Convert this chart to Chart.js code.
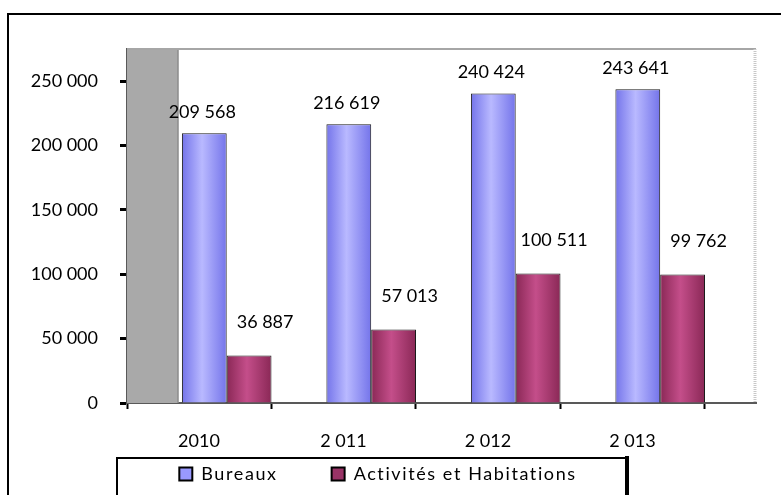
<!DOCTYPE html>
<html>
<head>
<meta charset="utf-8">
<script src="https://cdn.jsdelivr.net/npm/chart.js@4/dist/chart.umd.min.js"></script>
<style>
  html, body { margin: 0; padding: 0; background: #fff; }
  #wrap { width: 781px; height: 495px; }
</style>
</head>
<body>
<div id="wrap"><canvas id="c" width="781" height="495"></canvas></div>
<script>
// ---- data ----
const categories = ["2010", "2 011", "2 012", "2 013"];
const seriesNames = ["Bureaux", "Activités et Habitations"];
const bureaux = [209568, 216619, 240424, 243641];
const activites = [36887, 57013, 100511, 99762];
const yTicks = [0, 50000, 100000, 150000, 200000, 250000];
const yMax = 275000;

// ---- styling constants ----
const FONT = { family: "Lato, 'Open Sans', sans-serif", size: 18 };
const WALL = 0.353;      // depth of 3D side wall, in category units
const SHIFT = 0.19;      // bars sit mid-depth
const CAT_PCT = 0.62;
const LEGEND_GAP = 54;
const EXTRA = LEGEND_GAP - 10;

function fmt(v) { return String(v).replace(/\B(?=(\d{3})+(?!\d))/g, ' '); }

function barGradient(dark, light) {
  return function (ctx) {
    const chart = ctx.chart;
    const s = chart.scales.xb;
    if (!s || ctx.type !== 'data' || !ctx.parsed) return dark;
    const unit = s.getPixelForValue(1) - s.getPixelForValue(0);
    const group = unit * CAT_PCT;
    const w = group / 2;
    const c = s.getPixelForValue(ctx.parsed.x) - group / 2 + w * (ctx.datasetIndex + 0.5);
    const g = chart.ctx.createLinearGradient(c - w / 2, 0, c + w / 2, 0);
    g.addColorStop(0, dark);
    g.addColorStop(0.45, light);
    g.addColorStop(1, dark);
    return g;
  };
}

const decor = {
  id: 'decor',
  afterInit(chart) {
    const lg = chart.legend;
    if (!lg) return;
    const origFit = lg.fit, origDraw = lg.draw;
    lg.fit = function (...args) {
      const c = chart.ctx;
      c.letterSpacing = '1.6px';
      const r = origFit.apply(this, args);
      c.letterSpacing = '0px';
      this.height = Math.max(0, this.height - EXTRA);
      return r;
    };
    lg.draw = function (...args) {
      const c = chart.ctx;
      const t = this.top;
      this.top = t - EXTRA;
      c.letterSpacing = '1.6px';
      const r = origDraw.apply(this, args);
      c.letterSpacing = '0px';
      this.top = t;
      return r;
    };
  },
  beforeDraw(chart) {
    const c = chart.ctx;
    c.save();
    c.fillStyle = '#fff';
    c.fillRect(0, 0, chart.width, chart.height);
    // outer frame
    c.strokeStyle = '#000';
    c.lineWidth = 2;
    c.beginPath();
    c.moveTo(8, chart.height + 2);
    c.lineTo(8, 14);
    c.lineTo(chart.width + 2, 14);
    c.stroke();
    c.restore();
  },
  beforeDatasetsDraw(chart) {
    const c = chart.ctx, a = chart.chartArea, x = chart.scales.x;
    const wallW = x.getPixelForValue(WALL) - x.getPixelForValue(0);
    c.save();
    // side wall
    c.fillStyle = '#a9a9a9';
    c.fillRect(a.left, a.top, wallW, a.bottom - a.top);
    c.strokeStyle = '#8c8c8c';
    c.lineWidth = 1.5;
    c.beginPath();
    c.moveTo(a.left + wallW, a.top);
    c.lineTo(a.left + wallW, a.bottom);
    c.stroke();
    // back wall top & right border
    c.strokeStyle = '#a6a6a6';
    c.lineWidth = 2;
    c.beginPath();
    c.moveTo(a.left, a.top);
    c.lineTo(a.right, a.top);
    c.stroke();
    c.setLineDash([1, 1]);
    c.lineWidth = 3;
    c.strokeStyle = '#c8c8c8';
    c.beginPath();
    c.moveTo(a.right - 1, a.top);
    c.lineTo(a.right - 1, a.bottom);
    c.stroke();
    c.restore();
  },
  afterDatasetsDraw(chart) {
    const c = chart.ctx;
    const offs = [{ dx: -2, dy: 21 }, { dx: 16, dy: 33 }];
    c.save();
    c.font = `${FONT.size}px ${FONT.family}`;
    c.fillStyle = '#000';
    c.textAlign = 'center';
    c.textBaseline = 'middle';
    chart.data.datasets.forEach((ds, di) => {
      const meta = chart.getDatasetMeta(di);
      meta.data.forEach((el, i) => {
        c.fillText(fmt(ds.data[i].y), el.x + offs[di].dx, el.y - offs[di].dy);
      });
    });
    c.restore();
  },
  afterDraw(chart) {
    const c = chart.ctx;
    c.save();
    c.strokeStyle = '#000';
    c.lineWidth = 2;
    c.beginPath();
    c.moveTo(117, chart.height + 2);
    c.lineTo(117, 458);
    c.lineTo(627, 458);
    c.stroke();
    c.lineWidth = 4;
    c.beginPath();
    c.moveTo(627, 456);
    c.lineTo(627, chart.height + 2);
    c.stroke();
    c.restore();
  }
};

const toPoints = arr => arr.map((v, i) => ({ x: i, y: v }));

new Chart(document.getElementById('c'), {
  type: 'bar',
  data: {
    datasets: [
      {
        label: seriesNames[0],
        data: toPoints(bureaux),
        xAxisID: 'xb',
        backgroundColor: barGradient('#7474ea', '#b9b9ff'),
        legendColor: '#9999ff',
        borderColor: '#1a1a1a',
        borderWidth: 1,
        categoryPercentage: CAT_PCT,
        barPercentage: 1.0
      },
      {
        label: seriesNames[1],
        data: toPoints(activites),
        xAxisID: 'xb',
        backgroundColor: barGradient('#8a2856', '#c44e8a'),
        legendColor: '#993366',
        borderColor: '#1a1a1a',
        borderWidth: 1,
        categoryPercentage: CAT_PCT,
        barPercentage: 1.0
      }
    ]
  },
  options: {
    responsive: false,
    animation: false,
    devicePixelRatio: 1,
    layout: { padding: { top: 49, right: 25, left: 0, bottom: 2 } },
    plugins: {
      tooltip: { enabled: false },
      legend: {
        position: 'bottom',
        labels: {
          font: FONT,
          color: '#000',
          boxWidth: 13,
          boxHeight: 13,
          padding: LEGEND_GAP,
          generateLabels(chart) {
            return chart.data.datasets.map((ds, i) => ({
              text: ds.label,
              fillStyle: ds.legendColor,
              strokeStyle: '#000',
              lineWidth: 2,
              hidden: false,
              datasetIndex: i
            }));
          }
        }
      }
    },
    scales: {
      x: {
        type: 'linear',
        position: 'bottom',
        offset: false,
        min: -0.5,
        max: categories.length - 0.5 + WALL,
        afterBuildTicks(s) {
          s.ticks = categories.map((_, i) => ({ value: i - 0.5 })).concat([{ value: categories.length - 0.5 }]);
        },
        afterFit(s) { s.height = 52; },
        ticks: {
          font: FONT,
          color: '#000',
          padding: 21,
          maxRotation: 0,
          autoSkip: false,
          labelOffset: 72,
          callback: v => categories[Math.round(v + 0.5)] ?? ''
        },
        grid: { offset: false, drawOnChartArea: false, tickLength: 6, tickColor: '#000', tickWidth: 2 },
        border: { color: '#595959', width: 2 }
      },
      xb: {
        type: 'linear',
        display: false,
        offset: false,
        grid: { offset: false },
        min: -0.5 - SHIFT,
        max: categories.length - 0.5 + WALL - SHIFT,
        afterBuildTicks(s) { s.ticks = categories.map((_, i) => ({ value: i })); }
      },
      y: {
        min: 0,
        max: yMax,
        afterBuildTicks(s) { s.ticks = yTicks.map(v => ({ value: v })); },
        afterFit(s) { s.width = 127; },
        ticks: {
          font: FONT,
          color: '#000',
          padding: 22,
          callback: v => fmt(v)
        },
        grid: { drawOnChartArea: false, tickLength: 7, tickColor: '#000', tickWidth: 3 },
        border: { color: '#595959', width: 2 }
      }
    }
  },
  plugins: [decor]
});
</script>
</body>
</html>
